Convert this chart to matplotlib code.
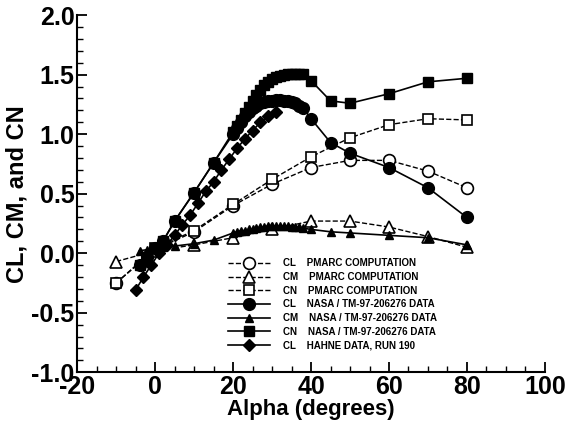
import matplotlib
matplotlib.use("Agg")
import matplotlib.pyplot as plt
from matplotlib.ticker import MultipleLocator

plt.rcParams["font.family"] = ["Liberation Sans", "DejaVu Sans"]
plt.rcParams["font.weight"] = "bold"
plt.rcParams["axes.unicode_minus"] = False

# PMARC computation (every 10 deg)
alpha_pmarc = [-10, 0, 10, 20, 30, 40, 50, 60, 70, 80]
cl_pmarc = [-0.25, 0.03, 0.18, 0.40, 0.58, 0.72, 0.78, 0.78, 0.69, 0.55]
cm_pmarc = [-0.07, 0.02, 0.07, 0.13, 0.20, 0.27, 0.27, 0.22, 0.14, 0.05]
cn_pmarc = [-0.25, 0.04, 0.19, 0.41, 0.62, 0.81, 0.97, 1.08, 1.13, 1.12]

# NASA / TM-97-206276 wind tunnel data
alpha_nasa = [-4, -2, 0, 2, 5, 10, 15, 20, 21, 22, 23, 24, 25, 26, 27, 28, 29,
              30, 31, 32, 33, 34, 35, 36, 37, 38, 40, 45, 50, 60, 70, 80]
cl_nasa = [-0.10, -0.03, 0.04, 0.10, 0.27, 0.51, 0.76, 1.00, 1.05, 1.10, 1.15,
           1.19, 1.22, 1.24, 1.26, 1.27, 1.28, 1.28, 1.29, 1.29, 1.28, 1.28,
           1.27, 1.26, 1.24, 1.22, 1.13, 0.93, 0.84, 0.72, 0.55, 0.30]
cm_nasa = [0.02, 0.03, 0.04, 0.05, 0.06, 0.08, 0.11, 0.17, 0.18, 0.19, 0.19,
           0.20, 0.20, 0.21, 0.22, 0.22, 0.23, 0.23, 0.23, 0.23, 0.23, 0.23,
           0.22, 0.22, 0.22, 0.21, 0.20, 0.18, 0.17, 0.15, 0.13, 0.07]
cn_nasa = [-0.10, -0.03, 0.04, 0.10, 0.27, 0.51, 0.76, 1.02, 1.07, 1.12, 1.18,
           1.23, 1.28, 1.33, 1.37, 1.41, 1.44, 1.46, 1.48, 1.49, 1.50, 1.51,
           1.51, 1.51, 1.51, 1.51, 1.45, 1.28, 1.26, 1.34, 1.44, 1.47]

# Hahne data, run 190
alpha_hahne = [-5, -3, -1, 1, 3, 5, 7, 9, 11, 13, 15, 17, 19, 21, 23, 25, 27,
               29, 31]
cl_hahne = [-0.31, -0.20, -0.10, 0.00, 0.07, 0.15, 0.24, 0.32, 0.42, 0.52,
            0.60, 0.70, 0.79, 0.88, 0.96, 1.03, 1.10, 1.15, 1.19]

fig = plt.figure(figsize=(5.76, 4.22), dpi=100)
ax = fig.add_axes([0.134, 0.118, 0.812, 0.846])

k = "black"
ax.plot(alpha_pmarc, cl_pmarc, "--", color=k, lw=1.0, marker="o", ms=8.5,
        mfc="white", mec=k, mew=1.2, label="CL    PMARC COMPUTATION")
ax.plot(alpha_pmarc, cm_pmarc, "--", color=k, lw=1.0, marker="^", ms=8.5,
        mfc="white", mec=k, mew=1.2, label="CM    PMARC COMPUTATION")
ax.plot(alpha_pmarc, cn_pmarc, "--", color=k, lw=1.0, marker="s", ms=7,
        mfc="white", mec=k, mew=1.2, label="CN    PMARC COMPUTATION")
ax.plot(alpha_nasa, cl_nasa, "-", color=k, lw=1.2, marker="o", ms=8.5,
        mfc=k, mec=k, label="CL    NASA / TM-97-206276 DATA")
ax.plot(alpha_nasa, cm_nasa, "-", color=k, lw=1.2, marker="^", ms=6,
        mfc=k, mec=k, label="CM    NASA / TM-97-206276 DATA")
ax.plot(alpha_nasa, cn_nasa, "-", color=k, lw=1.2, marker="s", ms=6.5,
        mfc=k, mec=k, label="CN    NASA / TM-97-206276 DATA")
ax.plot(alpha_hahne, cl_hahne, "-", color=k, lw=1.2, marker="D", ms=6,
        mfc=k, mec=k, label="CL    HAHNE DATA, RUN 190")

ax.set_xlim(-20, 100)
ax.set_ylim(-1.0, 2.0)
ax.xaxis.set_major_locator(MultipleLocator(20))
ax.xaxis.set_minor_locator(MultipleLocator(5))
ax.yaxis.set_major_locator(MultipleLocator(0.5))
ax.yaxis.set_minor_locator(MultipleLocator(0.1))
ax.yaxis.set_major_formatter(plt.FormatStrFormatter("%.1f"))

for s in ("top", "right"):
    ax.spines[s].set_visible(False)
for s in ("left", "bottom"):
    ax.spines[s].set_linewidth(1.5)
ax.tick_params(which="major", direction="in", length=7, width=1.3,
               labelsize=18, pad=2)
ax.tick_params(which="minor", direction="in", length=4, width=1.0)
for lab in ax.get_xticklabels() + ax.get_yticklabels():
    lab.set_fontweight("bold")

ax.set_xlabel("Alpha (degrees)", fontsize=16, fontweight="bold", labelpad=0)
ax.set_ylabel("CL, CM, and CN", fontsize=17, fontweight="bold", labelpad=2)

leg = ax.legend(loc="upper left", bbox_to_anchor=(0.315, 0.33), frameon=False,
                fontsize=7, handlelength=4.3, handletextpad=1.3,
                labelspacing=0.38, borderaxespad=0)
for t in leg.get_texts():
    t.set_fontweight("bold")

fig.savefig("out.png", dpi=100, facecolor="white")
